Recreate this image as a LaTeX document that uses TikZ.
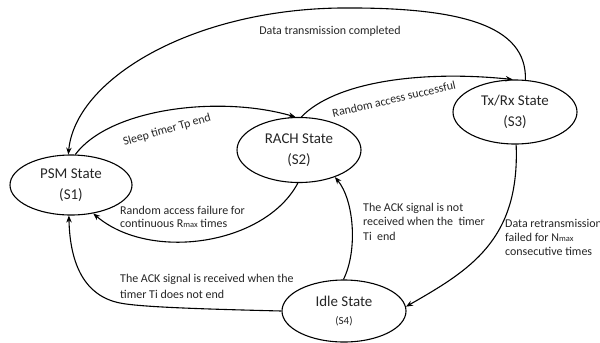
\documentclass[tikz,border=0pt]{standalone}
\usepackage{fontspec}
\setmainfont{Carlito}
\usetikzlibrary{arrows.meta,shapes.geometric}

\tikzset{
  statebox/.style={ellipse, draw=black, line width=1.1pt, inner sep=0pt,
    align=center, text=black!85, font=\fontsize{15}{21}\selectfont},
  trans/.style={draw=black, line width=1.1pt,
    -{Stealth[length=7bp,width=5.5bp]}},
  lbl/.style={inner sep=0pt, text=black!85, font=\fontsize{12}{14.5}\selectfont},
  mlbl/.style={lbl, align=left, anchor=north west}
}
\newcommand{\smallsub}[1]{{\fontsize{8.5}{8.5}\selectfont #1}}

\begin{document}
\begin{tikzpicture}[x=1bp, y=-1bp]
  \useasboundingbox[fill=white] (0,0) rectangle (600,342);

  % states
  \node[statebox, minimum width=122bp, minimum height=60bp] (psm) at (71,185)
    {PSM State\\(S1)};
  \node[statebox, minimum width=124bp, minimum height=65bp] (rach) at (299,150)
    {RACH State\\(S2)};
  \node[statebox, minimum width=124bp, minimum height=64bp] (txrx) at (515,112)
    {Tx/Rx State\\(S3)};
  \node[statebox, minimum width=124bp, minimum height=62bp] (idle) at (344,311)
    {Idle State\\[-3bp]{\fontsize{11}{11}\selectfont (S4)}};

  % transitions
  \draw[trans] (txrx.72) .. controls (527,25) and (460,7) .. (340,8)
    .. controls (190,10) and (75,80) .. (psm.95);
  \draw[trans] (psm.82) .. controls (110,108) and (220,95) .. (rach.96);
  \draw[trans] (rach.86) .. controls (335,82) and (420,70) .. (txrx.94);
  \draw[trans] (rach.-92) .. controls (265,245) and (150,262) .. (psm.-52);
  \draw[trans] (idle.180) .. controls (200,309) and (140,307) .. (120,303)
    .. controls (85,296) and (70,265) .. (psm.-94);
  \draw[trans] (idle.91) .. controls (358,250) and (354,200) .. (rach.-37);
  \draw[trans] (txrx.-88) .. controls (520,240) and (470,270) .. (idle.4);

  % transition labels
  \node[lbl] (l1) at (330,31) {Data transmission completed};
  \node[lbl, rotate=16] (l2) at (167,130) {Sleep timer Tp end};
  \node[lbl, rotate=13] (l3) at (394,99) {Random access successful};
  \node[mlbl, font=\fontsize{12}{13.5}\selectfont] (l4) at (120,206)
    {Random access failure for\\continuous R\smallsub{max} times};
  \node[mlbl, font=\fontsize{12}{16}\selectfont] (l5) at (120,274)
    {The ACK signal is received when the\\timer Ti does not end};
  \node[mlbl] (l6) at (363,203)
    {The ACK signal is not\\received when the\ \ timer\\Ti\ \ end};
  \node[mlbl, font=\fontsize{12}{14}\selectfont] (l7) at (505,219)
    {Data retransmission\\failed for N\smallsub{max}\\consecutive times};
\end{tikzpicture}
\end{document}
